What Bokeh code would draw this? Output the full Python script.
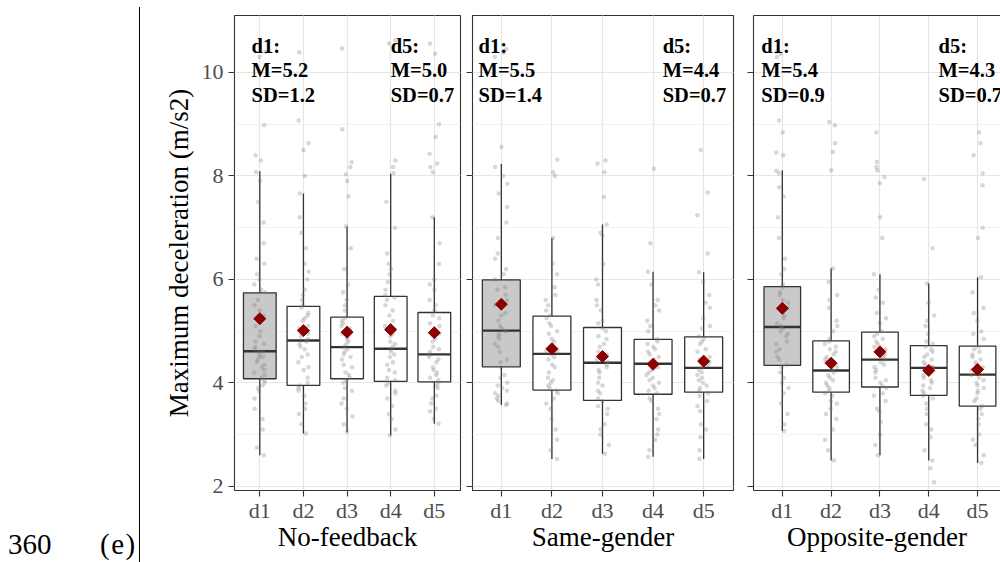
import math
from bokeh.plotting import figure
from bokeh.layouts import row
from bokeh.models import (ColumnDataSource, Range1d, FixedTicker, LinearAxis, Grid, Div)
from bokeh.transform import jitter
from bokeh.embed import file_html
from bokeh.resources import INLINE
from bokeh.core.properties import value

# ---------------- data ----------------
categories = ["d1", "d2", "d3", "d4", "d5"]
panel_titles = ["No-feedback", "Same-gender", "Opposite-gender"]
y_label = "Maximum deceleration (m/s2)"
y_ticks = [2, 4, 6, 8, 10]
y_minor = [3, 5, 7, 9]

# No-feedback
nf_lo = [2.60, 3.02, 3.05, 2.99, 3.21]
nf_q1 = [4.08, 3.95, 4.08, 4.03, 4.02]
nf_med = [4.61, 4.82, 4.69, 4.66, 4.55]
nf_q3 = [5.74, 5.48, 5.27, 5.67, 5.36]
nf_hi = [8.09, 7.66, 7.02, 8.04, 7.20]
nf_mean = [5.24, 5.01, 4.98, 5.03, 4.97]
nf_pts_d1 = [2.6, 2.75, 3.1, 3.3, 3.5, 3.7, 3.85, 3.95, 4.05, 4.1, 4.2, 4.3, 4.4, 4.5, 4.55, 4.6, 4.65, 4.8, 4.9, 5.0, 5.2, 5.4, 5.6, 5.75, 5.9, 6.1, 6.4, 6.7, 7.1, 7.5, 7.9, 8.07, 8.3, 8.4, 8.98, 10.3, 10.4,
             3.9, 4.0, 4.15, 4.25, 4.35, 4.45, 4.5, 4.6, 4.7, 4.75, 5.1, 5.3, 5.5, 5.8, 6.0, 6.3]
nf_pts_d2 = [3.02, 3.2, 3.4, 3.6, 3.75, 3.85, 3.95, 4.1, 4.25, 4.4, 4.55, 4.7, 4.8, 4.85, 4.95, 5.05, 5.2, 5.3, 5.45, 5.6, 5.8, 6.0, 6.3, 6.6, 6.9, 7.2, 7.66, 8.0, 8.5, 8.63, 9.07, 10.39,
             3.5, 3.9, 4.0, 4.3, 4.5, 4.65, 4.75, 4.9, 5.0, 5.1, 5.25, 5.35, 5.5, 5.7, 6.15]
nf_pts_d3 = [3.05, 3.2, 3.35, 3.5, 3.7, 3.85, 4.0, 4.1, 4.2, 4.35, 4.5, 4.6, 4.7, 4.75, 4.85, 4.95, 5.05, 5.15, 5.25, 5.4, 5.6, 5.9, 6.2, 6.6, 7.02, 7.6, 7.9, 8.03, 8.17, 8.27, 8.9, 10.46,
             3.6, 3.9, 4.05, 4.15, 4.3, 4.45, 4.55, 4.65, 4.8, 4.9, 5.0, 5.1, 5.2, 5.5, 5.75]
nf_pts_d4 = [2.99, 3.1, 3.3, 3.55, 3.7, 3.85, 4.0, 4.1, 4.2, 4.35, 4.5, 4.6, 4.7, 4.8, 4.95, 5.1, 5.3, 5.5, 5.65, 5.8, 5.95, 6.1, 6.3, 6.5, 7.0, 7.5, 8.05, 8.17, 8.3, 10.56, 10.62,
             3.4, 3.8, 3.95, 4.05, 4.25, 4.4, 4.55, 4.65, 4.75, 4.9, 5.2, 5.4, 5.6, 5.7, 6.2]
nf_pts_d5 = [3.21, 3.3, 3.45, 3.6, 3.75, 3.9, 4.0, 4.1, 4.2, 4.3, 4.45, 4.55, 4.6, 4.7, 4.85, 5.0, 5.15, 5.3, 5.4, 5.6, 5.8, 6.0, 6.3, 6.7, 7.2, 8.07, 8.17, 8.24, 8.43, 8.75, 9.0, 10.36, 10.56,
             3.5, 3.7, 3.95, 4.05, 4.15, 4.25, 4.4, 4.5, 4.65, 4.8, 4.95, 5.1, 5.25, 5.5, 5.9]

# Same-gender
sg_lo = [3.57, 2.53, 2.63, 2.57, 2.53]
sg_q1 = [4.31, 3.86, 3.66, 3.78, 3.82]
sg_med = [5.01, 4.56, 4.39, 4.37, 4.29]
sg_q3 = [5.99, 5.29, 5.07, 4.84, 4.89]
sg_hi = [8.23, 6.80, 7.06, 6.15, 6.14]
sg_mean = [5.52, 4.66, 4.51, 4.36, 4.42]
sg_pts_d1 = [3.57, 3.6, 3.7, 3.8, 3.9, 4.0, 4.15, 4.3, 4.45, 4.6, 4.75, 4.9, 5.0, 5.05, 5.2, 5.35, 5.5, 5.7, 5.85, 6.0, 6.2, 6.5, 6.8, 7.1, 7.4, 7.66, 7.85, 8.0, 8.17, 8.56, 10.3, 10.38, 10.45,
             3.65, 3.75, 3.85, 3.95, 4.1, 4.4, 4.7, 4.85, 4.95, 5.1, 5.3, 5.6, 5.8, 6.1, 6.4]
sg_pts_d2 = [2.53, 2.7, 2.9, 3.1, 3.3, 3.5, 3.7, 3.85, 3.95, 4.05, 4.2, 4.35, 4.5, 4.55, 4.6, 4.7, 4.85, 5.0, 5.15, 5.3, 5.5, 5.7, 5.85, 6.1, 6.3, 6.8, 8.0, 8.07, 8.31,
             3.6, 3.8, 3.9, 4.0, 4.1, 4.3, 4.45, 4.6, 4.65, 4.8, 4.95, 5.1, 5.25, 5.4, 5.6]
sg_pts_d3 = [2.63, 2.8, 3.0, 3.2, 3.4, 3.55, 3.65, 3.8, 3.95, 4.1, 4.25, 4.35, 4.4, 4.5, 4.6, 4.75, 4.9, 5.05, 5.2, 5.4, 5.6, 5.9, 6.3, 6.85, 6.9, 7.06, 7.59, 8.07, 8.24, 8.3,
             3.1, 3.5, 3.7, 3.85, 4.0, 4.2, 4.3, 4.45, 4.55, 4.7, 4.85, 5.0, 5.15, 5.5, 6.0]
sg_pts_d4 = [2.57, 2.7, 2.9, 3.1, 3.3, 3.5, 3.65, 3.8, 3.9, 4.0, 4.1, 4.2, 4.3, 4.37, 4.45, 4.55, 4.65, 4.75, 4.85, 5.0, 5.2, 5.4, 5.6, 5.9, 6.15, 6.7, 8.14,
             3.0, 3.4, 3.7, 3.85, 3.95, 4.05, 4.15, 4.25, 4.4, 4.5, 4.6, 4.7, 4.8, 5.1, 5.5]
sg_pts_d5 = [2.53, 2.7, 2.95, 3.2, 3.45, 3.65, 3.8, 3.9, 4.0, 4.1, 4.2, 4.29, 4.35, 4.45, 4.6, 4.75, 4.9, 5.05, 5.25, 5.45, 5.7, 5.95, 6.14, 6.5, 7.24, 7.68, 8.5,
             3.1, 3.55, 3.75, 3.85, 3.95, 4.05, 4.15, 4.25, 4.4, 4.5, 4.65, 4.8, 4.85, 5.1, 5.55]

# Opposite-gender
og_lo = [3.07, 2.50, 2.60, 2.50, 2.45]
og_q1 = [4.34, 3.82, 3.92, 3.76, 3.55]
og_med = [5.08, 4.24, 4.45, 4.29, 4.16]
og_q3 = [5.86, 4.81, 4.98, 4.72, 4.71]
og_hi = [8.11, 6.21, 6.10, 5.92, 6.04]
og_mean = [5.44, 4.38, 4.60, 4.24, 4.26]
og_pts_d1 = [3.07, 3.2, 3.4, 3.6, 3.8, 4.0, 4.2, 4.35, 4.5, 4.65, 4.8, 4.95, 5.05, 5.15, 5.3, 5.45, 5.6, 5.75, 5.9, 6.1, 6.4, 6.8, 7.2, 7.6, 7.78, 8.05, 8.1, 8.4, 8.45, 8.84, 9.07, 10.3, 10.36, 10.4,
             3.9, 4.1, 4.3, 4.45, 4.6, 4.75, 4.9, 5.0, 5.1, 5.25, 5.4, 5.55, 5.7, 5.85, 6.2]
og_pts_d2 = [2.5, 2.7, 2.9, 3.1, 3.3, 3.5, 3.65, 3.8, 3.9, 4.0, 4.1, 4.2, 4.25, 4.35, 4.45, 4.55, 4.65, 4.75, 4.85, 5.0, 5.2, 5.45, 5.7, 5.95, 6.21, 8.11, 8.46, 8.63, 8.98, 9.04,
             3.4, 3.6, 3.75, 3.85, 3.95, 4.05, 4.15, 4.3, 4.4, 4.5, 4.6, 4.7, 4.8, 5.1, 5.6]
og_pts_d3 = [2.6, 2.8, 3.0, 3.25, 3.45, 3.65, 3.8, 3.95, 4.05, 4.2, 4.3, 4.4, 4.5, 4.6, 4.7, 4.8, 4.9, 5.0, 5.15, 5.35, 5.55, 5.8, 6.1, 6.8, 7.2, 7.86, 7.98, 8.11, 8.17, 8.27, 8.84,
             3.5, 3.75, 3.9, 4.0, 4.1, 4.25, 4.35, 4.45, 4.55, 4.65, 4.75, 4.85, 4.95, 5.25, 5.65]
og_pts_d4 = [2.08, 2.35, 2.5, 2.7, 2.95, 3.2, 3.4, 3.6, 3.75, 3.85, 3.95, 4.05, 4.15, 4.25, 4.3, 4.4, 4.5, 4.6, 4.7, 4.8, 4.95, 5.1, 5.3, 5.55, 5.92, 6.6, 7.94,
             3.1, 3.5, 3.7, 3.8, 3.9, 4.0, 4.1, 4.2, 4.3, 4.35, 4.45, 4.55, 4.65, 4.75, 5.2]
og_pts_d5 = [2.45, 2.6, 2.8, 3.0, 3.2, 3.4, 3.55, 3.7, 3.85, 3.95, 4.05, 4.15, 4.2, 4.3, 4.4, 4.5, 4.6, 4.7, 4.85, 5.0, 5.2, 5.45, 5.75, 6.04, 6.8, 7.0, 7.82, 8.05, 8.4, 8.63, 8.84,
             2.9, 3.3, 3.5, 3.65, 3.8, 3.9, 4.0, 4.1, 4.25, 4.35, 4.45, 4.55, 4.65, 4.95, 5.35]

# annotation values (d1 and d5 summaries)
ann_m_d1 = [5.2, 5.5, 5.4]
ann_sd_d1 = [1.2, 1.4, 0.9]
ann_m_d5 = [5.0, 4.4, 4.3]
ann_sd_d5 = [0.7, 0.7, 0.7]

margin_labels = ["360", "(e)"]

# ---------------- styling ----------------
SERIF = "Liberation Serif"
DARK = "#333333"
TICK_TXT = "#4d4d4d"
H = 562
NOSHRINK = {"flex-shrink": "0", "flex-grow": "0"}

panels = [
    dict(lo=nf_lo, q1=nf_q1, med=nf_med, q3=nf_q3, hi=nf_hi, mean=nf_mean,
         pts=[nf_pts_d1, nf_pts_d2, nf_pts_d3, nf_pts_d4, nf_pts_d5]),
    dict(lo=sg_lo, q1=sg_q1, med=sg_med, q3=sg_q3, hi=sg_hi, mean=sg_mean,
         pts=[sg_pts_d1, sg_pts_d2, sg_pts_d3, sg_pts_d4, sg_pts_d5]),
    dict(lo=og_lo, q1=og_q1, med=og_med, q3=og_q3, hi=og_hi, mean=og_mean,
         pts=[og_pts_d1, og_pts_d2, og_pts_d3, og_pts_d4, og_pts_d5]),
]
layout_cfg = [
    dict(width=316, bl=84, br=6, xs=0.42, xe=5.60, first=True, full=True, axl=0.81, axr=4.00),
    dict(width=277, bl=6, br=10, xs=0.43, xe=5.59, first=False, full=True, axl=0.55, axr=4.19),
    dict(width=257, bl=10, br=0, xs=0.41, xe=5.47, first=False, full=False, axl=0.57, axr=4.20),
]
BOX_W = 0.75
ANN_Y = [10.52, 10.04, 9.56]


def make_panel(i):
    d = panels[i]
    c = layout_cfg[i]
    p = figure(width=c["width"], height=H, output_backend="svg", toolbar_location=None,
               x_range=Range1d(c["xs"], c["xe"]), y_range=Range1d(1.92, 11.1),
               min_border_left=c["bl"], min_border_right=c["br"],
               min_border_top=15, min_border_bottom=72,
               x_axis_location=None, y_axis_location=None, styles=NOSHRINK)
    p.background_fill_color = "white"
    p.border_fill_color = "white"
    if c["full"]:
        p.outline_line_color = DARK
        p.outline_line_width = 1.1
        p.outline_line_alpha = 1.0
    else:
        p.outline_line_color = None

    xs = list(range(1, len(categories) + 1))
    xaxis = LinearAxis(ticker=FixedTicker(ticks=xs, minor_ticks=[]),
                       major_label_overrides={x: cat for x, cat in zip(xs, categories)})
    yaxis = LinearAxis(ticker=FixedTicker(ticks=y_ticks, minor_ticks=y_minor))
    for ax in (xaxis, yaxis):
        ax.major_tick_out = 6
        ax.major_tick_in = 0
        ax.major_tick_line_color = DARK
        ax.major_tick_line_width = 1.1
        ax.minor_tick_line_color = None
        ax.axis_line_color = None if c["full"] else DARK
        ax.axis_line_width = 1.1
        ax.major_label_text_font = SERIF
        ax.major_label_text_font_size = "22px"
        ax.major_label_text_color = TICK_TXT
        ax.major_label_standoff = 5
    xaxis.major_label_standoff = 1
    xaxis.axis_label = panel_titles[i]
    xaxis.axis_label_text_font = SERIF
    xaxis.axis_label_text_font_size = "27px"
    xaxis.axis_label_text_font_style = "normal"
    xaxis.axis_label_text_color = "black"
    xaxis.axis_label_standoff = -4
    if c["first"]:
        yaxis.axis_label = y_label
        yaxis.axis_label_text_font = SERIF
        yaxis.axis_label_text_font_size = "27px"
        yaxis.axis_label_text_font_style = "normal"
        yaxis.axis_label_text_color = "black"
        yaxis.axis_label_standoff = 5
    else:
        yaxis.major_label_overrides = {t: "" for t in y_ticks}
        yaxis.major_label_standoff = 0
    p.add_layout(xaxis, "below")
    p.add_layout(yaxis, "left")
    if not c["full"]:
        top = LinearAxis(ticker=FixedTicker(ticks=[]), major_tick_line_color=None,
                         minor_tick_line_color=None, major_label_standoff=0,
                         axis_line_color=DARK, axis_line_width=1.1)
        p.add_layout(top, "above")

    p.add_layout(Grid(dimension=0, ticker=xaxis.ticker, grid_line_color="#e5e5e5", grid_line_width=1.2))
    p.add_layout(Grid(dimension=1, ticker=yaxis.ticker, grid_line_color="#e5e5e5", grid_line_width=1.2,
                      minor_grid_line_color="#efefef", minor_grid_line_width=0.8))

    fills = ["#c9c9c9"] + ["white"] * (len(categories) - 1)
    src = ColumnDataSource(dict(
        x=xs, lo=d["lo"], q1=d["q1"], med=d["med"], q3=d["q3"], hi=d["hi"], mean=d["mean"],
        x0=[x - BOX_W / 2 for x in xs], x1=[x + BOX_W / 2 for x in xs], fill=fills))

    p.segment(x0="x", y0="lo", x1="x", y1="q1", source=src, line_color=DARK, line_width=1.3)
    p.segment(x0="x", y0="q3", x1="x", y1="hi", source=src, line_color=DARK, line_width=1.3)
    p.vbar(x="x", width=BOX_W, bottom="q1", top="q3", source=src, fill_color="fill",
           line_color=DARK, line_width=1.3)
    p.segment(x0="x0", y0="med", x1="x1", y1="med", source=src, line_color=DARK, line_width=2.4)

    px, py = [], []
    for x, vals in zip(xs, d["pts"]):
        px += [x] * len(vals)
        py += vals
    psrc = ColumnDataSource(dict(x=px, y=py))
    p.scatter(x=jitter("x", width=0.26, distribution="uniform"), y="y", source=psrc,
              size=4.5, fill_color="#7a7a7a", fill_alpha=0.3, line_color=None)

    p.scatter(x="x", y="mean", source=src, marker="square", angle=math.pi / 4, size=8.5,
              fill_color="#8b0000", line_color="#8b0000")

    lines_l = ["d1:", f"M={ann_m_d1[i]:.1f}", f"SD={ann_sd_d1[i]:.1f}"]
    lines_r = ["d5:", f"M={ann_m_d5[i]:.1f}", f"SD={ann_sd_d5[i]:.1f}"]
    tsrc = ColumnDataSource(dict(
        x=[c["axl"]] * 3 + [c["axr"]] * 3,
        y=ANN_Y + ANN_Y,
        t=lines_l + lines_r))
    p.text(x="x", y="y", text="t", source=tsrc, text_font=value(SERIF), text_font_style="bold",
           text_font_size="20.5px", text_color="black", text_baseline="middle", text_align="left")
    return p


# left margin of the page: line number, sub-figure label and a rule
margin_html = (
    '<div style="position:relative;width:150px;height:562px;overflow:hidden;'
    'font-family:\'Liberation Serif\',serif;font-size:29px;line-height:24px;color:black;">'
    '<div style="position:absolute;left:139px;top:7px;width:1px;height:555px;background:black;"></div>'
    f'<span style="position:absolute;left:8px;top:532px;">{margin_labels[0]}</span>'
    f'<span style="position:absolute;left:100px;top:532px;letter-spacing:1.5px;">{margin_labels[1]}</span>'
    '</div>'
)
fa = Div(text=margin_html, width=150, height=H,
         styles={"flex-shrink": "0", "flex-grow": "0", "overflow": "hidden", "margin": "0", "padding": "0"})

figs = [make_panel(i) for i in range(3)]
layout = row(fa, *figs)

open("out.html", "w").write(file_html(layout, INLINE))
